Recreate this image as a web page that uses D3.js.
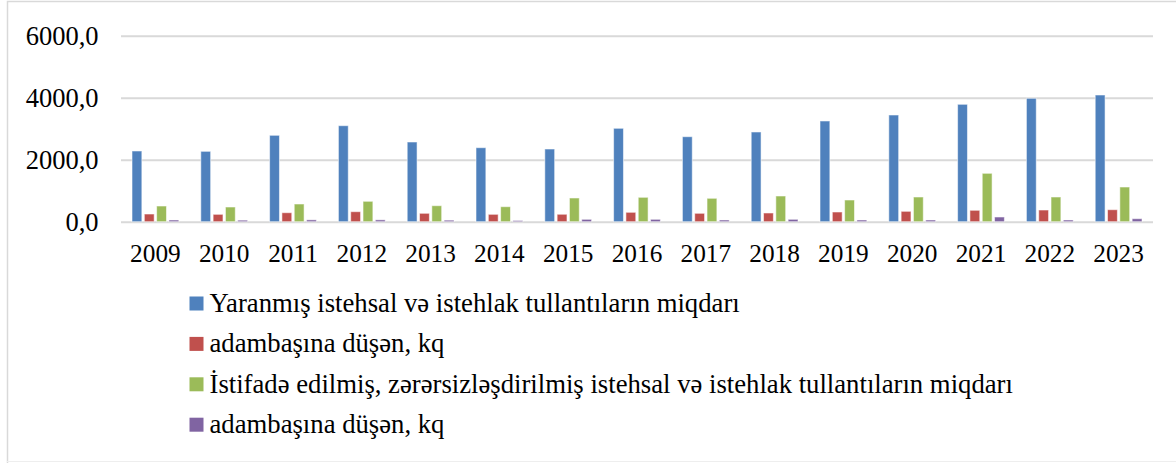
<!DOCTYPE html>
<html>
<head>
<meta charset="utf-8">
<script src="https://cdn.jsdelivr.net/npm/d3@7/dist/d3.min.js"></script>
</head>
<body style="margin:0;padding:0;background:#fff">
<svg id="chart" width="1176" height="463" style="display:block"></svg>
<script>
const years = ["2009","2010","2011","2012","2013","2014","2015","2016","2017","2018","2019","2020","2021","2022","2023"];
const seriesNames = [
  "Yaranmış istehsal və istehlak tullantıların miqdarı",
  "adambaşına düşən, kq",
  "İstifadə edilmiş, zərərsizləşdirilmiş istehsal və istehlak tullantıların miqdarı",
  "adambaşına düşən, kq"
];
const generated  = [2281, 2270, 2787, 3097, 2571, 2387, 2345, 3013, 2742, 2894, 3249, 3442, 3787, 3981, 4087];
const perCapita1 = [248, 238, 290, 323, 271, 238, 240, 303, 271, 281, 313, 335, 368, 377, 387];
const utilized   = [506, 474, 571, 658, 516, 484, 765, 787, 755, 829, 700, 797, 1561, 797, 1119];
const perCapita2 = [55, 50, 60, 60, 50, 40, 77, 77, 55, 77, 55, 55, 152, 55, 97];
const yTicks = [0, 2000, 4000, 6000];
const colors = ["#4f81bd", "#c0504d", "#9bbb59", "#8064a2"];

const FONT = "'Liberation Serif', 'Times New Roman', serif";
const seriesValues = [generated, perCapita1, utilized, perCapita2];
const keys = ["s0", "s1", "s2", "s3"];
const rows = years.map((y, i) => {
  const r = { year: y };
  keys.forEach((k, j) => r[k] = seriesValues[j][i]);
  return r;
});

const svg = d3.select("#chart");
const plot = { left: 121, right: 1153, top: 35.7, bottom: 221.7 };

// outer border (clipped on the right)
svg.append("path")
  .attr("d", "M7.5,470 L7.5,1.5 L1180,1.5")
  .attr("fill", "none").attr("stroke", "#d9d9d9").attr("stroke-width", 1.5);
svg.append("line")
  .attr("x1", 7).attr("x2", 1176).attr("y1", 461.5).attr("y2", 461.5)
  .attr("stroke", "#eeeeee").attr("stroke-width", 1);

const x0 = d3.scaleBand().domain(years).range([plot.left, plot.right])
  .paddingInner(0.32).paddingOuter(0.16);
const x1 = d3.scaleBand().domain(keys).range([0, x0.bandwidth()]).paddingInner(0.2);
const y = d3.scaleLinear().domain([0, 6000]).range([plot.bottom, plot.top]);

const fmt = v => d3.format(".1f")(v).replace(".", ",");

// gridlines + y labels
const yAxis = d3.axisLeft(y).tickValues(yTicks).tickSize(-(plot.right - plot.left)).tickFormat(fmt).tickPadding(22.5);
const gY = svg.append("g").attr("transform", `translate(${plot.left},0)`).call(yAxis);
gY.select(".domain").remove();
gY.selectAll(".tick line").attr("stroke", "#d9d9d9").attr("stroke-width", 2);
gY.selectAll(".tick text")
  .style("font-family", FONT).style("font-size", "26.5px")
  .attr("fill", "#000").attr("dy", "0.33em");

// bars
const groups = svg.append("g").selectAll("g").data(rows).join("g")
  .attr("transform", d => `translate(${x0(d.year)},0)`);
groups.selectAll("rect").data(d => keys.map((k, j) => ({ key: k, j, value: d[k] }))).join("rect")
  .attr("x", d => x1(d.key))
  .attr("width", x1.bandwidth())
  .attr("y", d => y(d.value))
  .attr("height", d => y(0) - y(d.value))
  .attr("fill", d => colors[d.j])
  .attr("stroke", "#ffffff").attr("stroke-opacity", 0.55).attr("stroke-width", 1);

// x axis labels
const xAxis = d3.axisBottom(x0).tickSize(0).tickPadding(22);
const gX = svg.append("g").attr("transform", `translate(0,${plot.bottom})`).call(xAxis);
gX.select(".domain").remove();
gX.selectAll(".tick text")
  .style("font-family", FONT).style("font-size", "25.3px")
  .attr("fill", "#000");

// legend
const legend = svg.append("g").selectAll("g").data(seriesNames).join("g")
  .attr("transform", (d, i) => `translate(189.5,${303.5 + i * 40.4})`);
legend.append("rect").attr("x", 0).attr("y", -7).attr("width", 14).attr("height", 14)
  .attr("fill", (d, i) => colors[i]);
legend.append("text").attr("x", 20).attr("y", 8.5)
  .style("font-family", FONT).style("font-size", "26.7px").attr("fill", "#000")
  .text(d => d);
</script>
</body>
</html>
